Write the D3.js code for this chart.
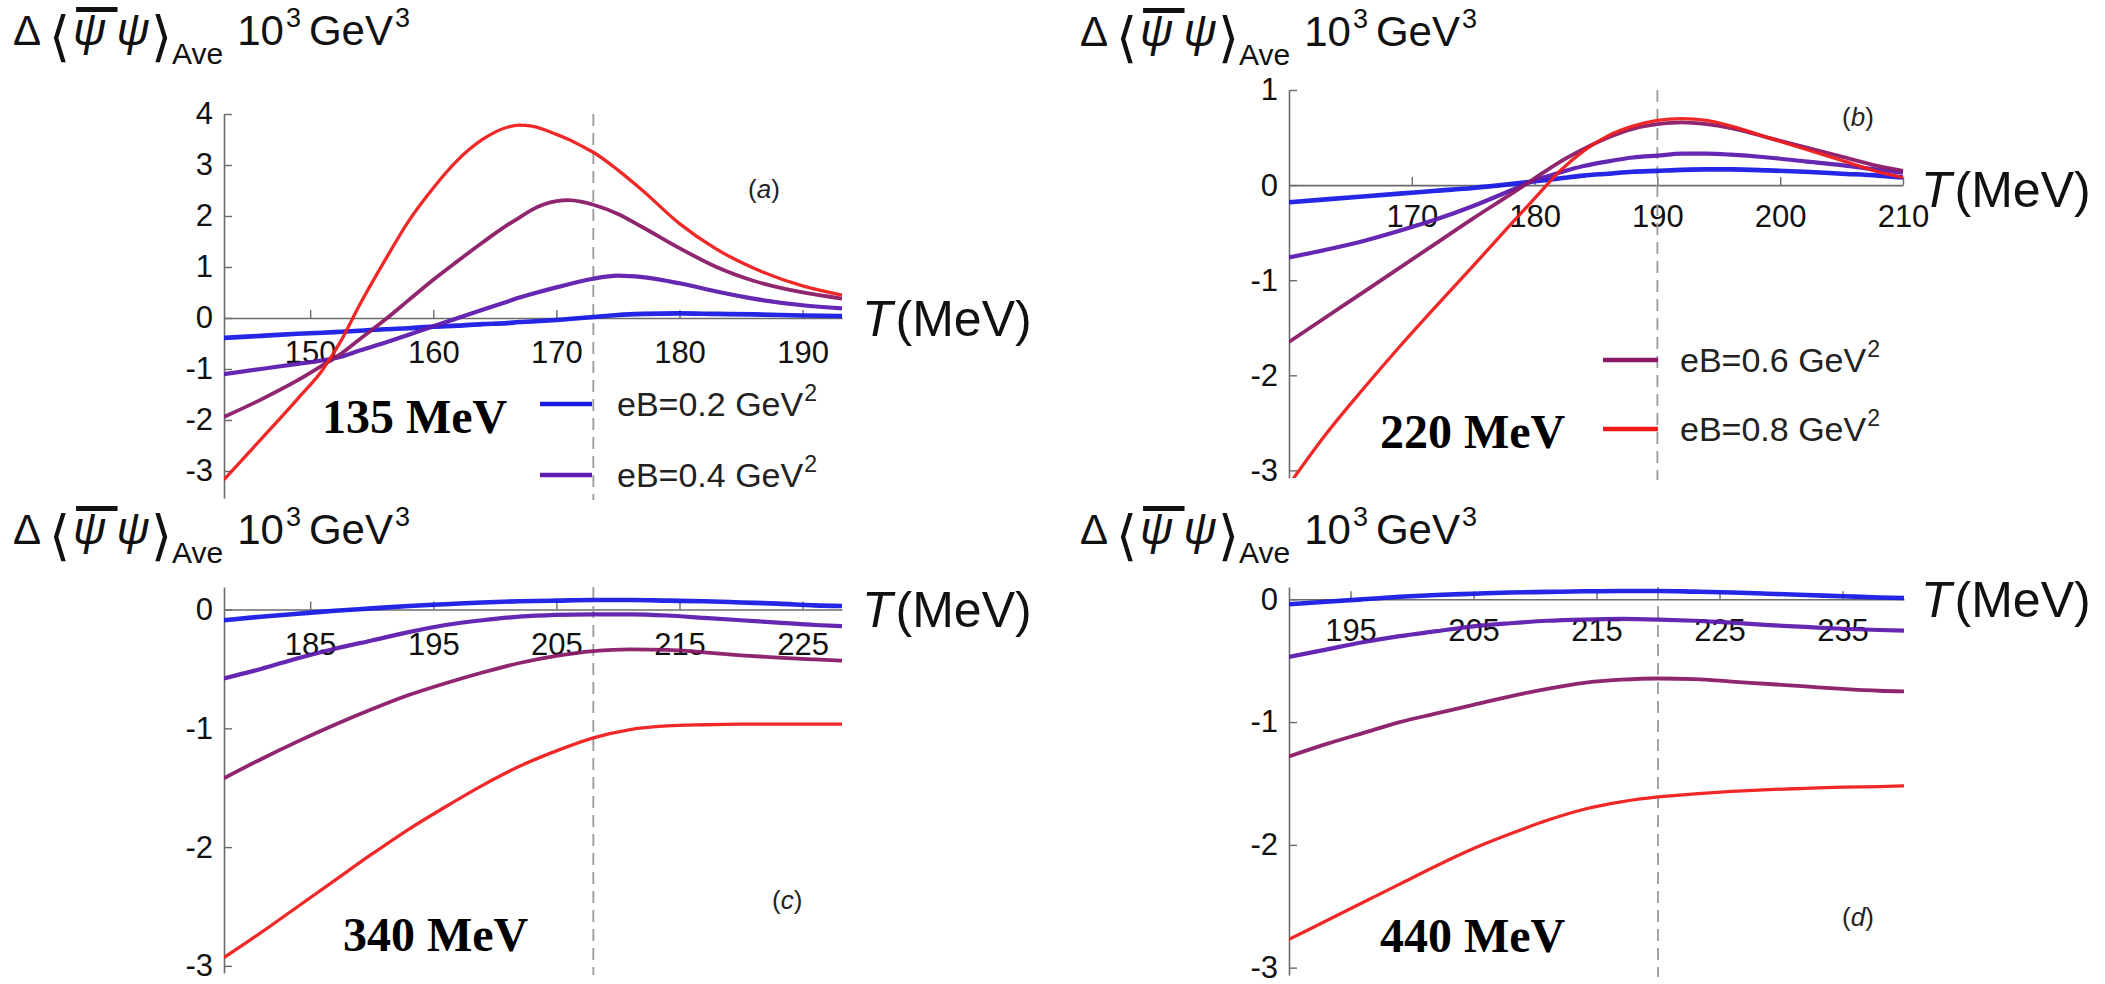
<!DOCTYPE html>
<html><head><meta charset="utf-8">
<script src="https://cdn.jsdelivr.net/npm/d3@7"></script>
<style>body{margin:0;background:#fff}svg{display:block}</style>
</head><body>
<svg id="chart" width="2105" height="984"></svg>
<script>
// ---------------- DATA ----------------
const seriesLabels = ["eB=0.2 GeV", "eB=0.4 GeV", "eB=0.6 GeV", "eB=0.8 GeV"];
const seriesColors = ["#1a1ae6", "#5e1bae", "#8a1a68", "#f01c1c"];
const seriesWidths = [4.6, 4.2, 3.8, 3.3];

// panel (a): 135 MeV
const aT    = [143, 146, 149, 151, 152.5, 154, 156, 158, 160, 162, 164, 166, 167, 168, 170, 171, 172, 173, 175, 177, 180, 183, 186, 190, 193.2];
const aEB02 = [-0.39,-0.35,-0.31,-0.29,-0.27,-0.25,-0.22,-0.2,-0.17,-0.15,-0.12,-0.1,-0.08,-0.07,-0.04,-0.02,0.0,0.02,0.06,0.08,0.09,0.08,0.07,0.05,0.04];
const aEB04 = [-1.1,-1.0,-0.9,-0.83,-0.76,-0.64,-0.49,-0.33,-0.16,0.0,0.16,0.32,0.4,0.47,0.6,0.66,0.72,0.77,0.83,0.8,0.68,0.52,0.38,0.25,0.19];
const aEB06 = [-1.94,-1.6,-1.22,-0.93,-0.7,-0.42,-0.05,0.35,0.75,1.12,1.48,1.82,1.97,2.12,2.29,2.31,2.28,2.22,2.04,1.78,1.37,1.0,0.73,0.5,0.38];
const aEB08 = [-3.17,-2.38,-1.58,-1.02,-0.45,0.25,1.1,1.9,2.55,3.1,3.5,3.74,3.78,3.76,3.6,3.5,3.38,3.25,2.9,2.5,1.85,1.35,0.98,0.63,0.45];
const aXTicks = [150, 160, 170, 180, 190];
const aYTicks = [-3, -2, -1, 0, 1, 2, 3, 4];

// panel (b): 220 MeV
const bT    = [160, 163, 166, 169, 172, 175, 178, 180, 182, 184, 186, 188, 190, 192, 194, 196, 199, 202, 205, 208, 210];
const bEB02 = [-0.18,-0.15,-0.12,-0.09,-0.06,-0.03,0.01,0.04,0.07,0.1,0.12,0.14,0.15,0.16,0.165,0.165,0.155,0.14,0.12,0.1,0.08];
const bEB04 = [-0.76,-0.68,-0.59,-0.48,-0.36,-0.22,-0.06,0.05,0.13,0.2,0.25,0.29,0.31,0.33,0.33,0.32,0.29,0.25,0.21,0.16,0.13];
const bEB06 = [-1.65,-1.39,-1.13,-0.87,-0.61,-0.35,-0.1,0.07,0.24,0.38,0.5,0.59,0.64,0.66,0.64,0.6,0.5,0.4,0.3,0.2,0.15];
const bEB08 = [-3.15,-2.62,-2.15,-1.7,-1.27,-0.85,-0.42,-0.14,0.14,0.36,0.52,0.62,0.68,0.7,0.68,0.62,0.5,0.38,0.26,0.14,0.08];
const bXTicks = [170, 180, 190, 200, 210];
const bYTicks = [-3, -2, -1, 0, 1];

// panel (c): 340 MeV
const cT    = [178, 181, 184, 187, 190, 193, 196, 199, 202, 205, 208, 211, 214, 217, 220, 223, 226, 228.2];
const cEB02 = [-0.09,-0.06,-0.035,-0.01,0.01,0.03,0.045,0.06,0.07,0.075,0.08,0.08,0.075,0.07,0.06,0.05,0.035,0.03];
const cEB04 = [-0.58,-0.5,-0.41,-0.33,-0.26,-0.19,-0.13,-0.09,-0.06,-0.045,-0.04,-0.04,-0.05,-0.07,-0.09,-0.11,-0.13,-0.14];
const cEB06 = [-1.42,-1.26,-1.11,-0.97,-0.84,-0.72,-0.62,-0.53,-0.45,-0.39,-0.35,-0.335,-0.34,-0.36,-0.385,-0.405,-0.42,-0.43];
const cEB08 = [-2.93,-2.72,-2.5,-2.28,-2.06,-1.85,-1.66,-1.48,-1.32,-1.19,-1.08,-1.01,-0.98,-0.97,-0.965,-0.965,-0.965,-0.965];
const cXTicks = [185, 195, 205, 215, 225];
const cYTicks = [-3, -2, -1, 0];

// panel (d): 440 MeV
const dT    = [190, 193, 196, 199, 202, 205, 208, 211, 214, 217, 220, 223, 226, 229, 232, 235, 238, 240];
const dEB02 = [-0.04,-0.02,0.0,0.02,0.035,0.045,0.055,0.06,0.065,0.068,0.068,0.062,0.055,0.045,0.035,0.025,0.015,0.01];
const dEB04 = [-0.47,-0.41,-0.35,-0.3,-0.26,-0.22,-0.195,-0.175,-0.165,-0.16,-0.165,-0.175,-0.19,-0.21,-0.225,-0.24,-0.25,-0.255];
const dEB06 = [-1.28,-1.18,-1.09,-1.0,-0.93,-0.86,-0.79,-0.73,-0.68,-0.655,-0.645,-0.65,-0.67,-0.69,-0.71,-0.73,-0.745,-0.75];
const dEB08 = [-2.77,-2.62,-2.47,-2.32,-2.17,-2.03,-1.91,-1.8,-1.71,-1.65,-1.61,-1.585,-1.565,-1.55,-1.54,-1.53,-1.525,-1.52];
const dXTicks = [195, 205, 215, 225, 235];
const dYTicks = [-3, -2, -1, 0];

const panelLetters = ["a", "b", "c", "d"];
const mesonLabels = ["135 MeV", "220 MeV", "340 MeV", "440 MeV"];
const dashedT = [173, 190, 208, 220];

// ---------------- LAYOUT ----------------
const panels = [
  {T:aT, vals:[aEB02,aEB04,aEB06,aEB08], xDom:[143,193.2], xRng:[224,842], yDom:[-3.53,4], yRng:[498,114],
   xTicks:aXTicks, yTicks:aYTicks, xPad:23, title:[13,45], tLabel:[862,336], letter:[748,198], meson:[322,433],
   legend:{series:[0,1], x0:540, x1:592, ys:[404,475], tx:617}},
  {T:bT, vals:[bEB02,bEB04,bEB06,bEB08], xDom:[160,210], xRng:[1289,1903], yDom:[-3.08,1], yRng:[478,90],
   xTicks:bXTicks, yTicks:bYTicks, xPad:20, title:[1080,46], tLabel:[1921,207], letter:[1842,126], meson:[1380,448],
   legend:{series:[2,3], x0:1603, x1:1658, ys:[360,429], tx:1680}},
  {T:cT, vals:[cEB02,cEB04,cEB06,cEB08], xDom:[178,228.2], xRng:[224,842], yDom:[-3.06,0.19], yRng:[973,587],
   xTicks:cXTicks, yTicks:cYTicks, xPad:23, title:[13,544], tLabel:[862,627], letter:[772,909], meson:[343,951]},
  {T:dT, vals:[dEB02,dEB04,dEB06,dEB08], xDom:[190,240], xRng:[1289,1904], yDom:[-3.06,0.1], yRng:[975,587],
   xTicks:dXTicks, yTicks:dYTicks, xPad:20, title:[1080,544], tLabel:[1921,617], letter:[1842,926], meson:[1380,952]}
];

const SANS = "'Liberation Sans', Arial, Helvetica, sans-serif";
const SERIF = "'Liberation Serif', 'Times New Roman', serif";
const svg = d3.select("#chart");

// helper: sequence of text pieces placed side by side
function richText(g, x, y, pieces) {
  let cx = x; const boxes = [];
  pieces.forEach(p => {
    cx += (p.gap || 0);
    const t = g.append("text").attr("x", cx).attr("y", y + (p.dy || 0))
      .attr("font-family", p.family || SANS).attr("font-size", p.size)
      .attr("font-style", p.style || "normal").attr("font-weight", p.weight || "normal")
      .attr("fill", p.fill || "#111").text(p.t);
    const w = t.node().getComputedTextLength();
    boxes.push({x: cx, w: w});
    cx += w;
  });
  return boxes;
}

panels.forEach((P, i) => {
  const g = svg.append("g");
  const x = d3.scaleLinear().domain(P.xDom).range(P.xRng);
  const y = d3.scaleLinear().domain(P.yDom).range(P.yRng);

  // clip
  const cid = "clip" + i;
  svg.append("clipPath").attr("id", cid).append("rect")
    .attr("x", P.xRng[0]).attr("y", P.yRng[1] - 10)
    .attr("width", P.xRng[1] - P.xRng[0] + 4).attr("height", P.yRng[0] - P.yRng[1] + 10);

  // x axis at y=0
  const xAxis = d3.axisBottom(x).tickValues(P.xTicks).tickSizeInner(-8).tickSizeOuter(0)
    .tickPadding(P.xPad).tickFormat(d3.format("d"));
  const gx = g.append("g").attr("transform", `translate(0,${y(0)})`).call(xAxis);
  gx.select(".domain").attr("stroke", "#6b6b6b").attr("stroke-width", 1.6);
  gx.selectAll(".tick line").attr("stroke", "#6b6b6b").attr("stroke-width", 1.4);
  gx.selectAll(".tick text").attr("font-family", SANS).attr("font-size", 31).attr("fill", "#111");

  // y axis
  const yAxis = d3.axisLeft(y).tickValues(P.yTicks).tickSizeInner(-8).tickSizeOuter(0)
    .tickPadding(11).tickFormat(d => d < 0 ? "-" + (-d) : String(d));
  const gy = g.append("g").attr("transform", `translate(${P.xRng[0]},0)`).call(yAxis);
  gy.select(".domain").attr("stroke", "#6b6b6b").attr("stroke-width", 1.6);
  gy.selectAll(".tick line").attr("stroke", "#6b6b6b").attr("stroke-width", 1.4);
  gy.selectAll(".tick text").attr("font-family", SANS).attr("font-size", 31).attr("fill", "#111");

  // dashed vertical line
  const dx = x(dashedT[i]);
  g.append("line").attr("x1", dx).attr("x2", dx)
    .attr("y1", P.yRng[1]).attr("y2", P.yRng[0] + 2)
    .attr("stroke", "#9a9a9a").attr("stroke-width", 1.8).attr("stroke-dasharray", "12,7");

  // curves
  const line = d3.line().x(d => x(d[0])).y(d => y(d[1])).curve(d3.curveMonotoneX);
  const cg = g.append("g").attr("clip-path", `url(#${cid})`);
  P.vals.forEach((vals, s) => {
    const pts = P.T.map((t, k) => [t, vals[k]]);
    cg.append("path").datum(pts).attr("d", line).attr("fill", "none")
      .attr("stroke", seriesColors[s]).attr("stroke-width", seriesWidths[s])
      .attr("stroke-linejoin", "round").attr("stroke-linecap", "butt").attr("opacity", 0.95);
  });

  // title: Δ <ψ̄ ψ>_Ave 10^3 GeV^3
  const tg = g.append("g");
  const tb = richText(tg, P.title[0], P.title[1], [
    {t: "Δ", size: 42},
    {t: "⟨", size: 54, family: "'DejaVu Sans', sans-serif", gap: 8, dy: 10, weight: 200},
    {t: "ψ", size: 46, style: "italic", gap: 3},
    {t: "ψ", size: 46, style: "italic", gap: 10},
    {t: "⟩", size: 54, family: "'DejaVu Sans', sans-serif", gap: 1, dy: 10, weight: 200},
    {t: "Ave", size: 30, dy: 19, gap: 0},
    {t: "10", size: 42, gap: 14},
    {t: "3", size: 27, dy: -18, gap: 2},
    {t: "GeV", size: 42, gap: 8},
    {t: "3", size: 27, dy: -18, gap: 2}
  ]);
  tg.append("rect").attr("x", tb[2].x + 3).attr("y", P.title[1] - 38)
    .attr("width", tb[2].w + 8).attr("height", 5).attr("fill", "#111");

  // T(MeV)
  richText(g, P.tLabel[0], P.tLabel[1], [
    {t: "T", size: 50, style: "italic"},
    {t: "(MeV)", size: 50, gap: 3}
  ]);

  // panel letter
  richText(g, P.letter[0], P.letter[1], [
    {t: "(", size: 26, fill: "#222"},
    {t: panelLetters[i], size: 26, style: "italic", fill: "#222"},
    {t: ")", size: 26, fill: "#222"}
  ]);

  // meson label
  g.append("text").attr("x", P.meson[0]).attr("y", P.meson[1])
    .attr("font-family", SERIF).attr("font-weight", "bold").attr("font-size", 48)
    .attr("fill", "#000").text(mesonLabels[i]);

  // legend
  if (P.legend) {
    P.legend.series.forEach((s, k) => {
      const ly = P.legend.ys[k];
      g.append("line").attr("x1", P.legend.x0).attr("x2", P.legend.x1).attr("y1", ly).attr("y2", ly)
        .attr("stroke", seriesColors[s]).attr("stroke-width", 4.5);
      richText(g, P.legend.tx, ly + 12, [
        {t: seriesLabels[s], size: 34, fill: "#222"},
        {t: "2", size: 23, dy: -15, gap: 1, fill: "#222"}
      ]);
    });
  }
});
</script>
</body></html>
